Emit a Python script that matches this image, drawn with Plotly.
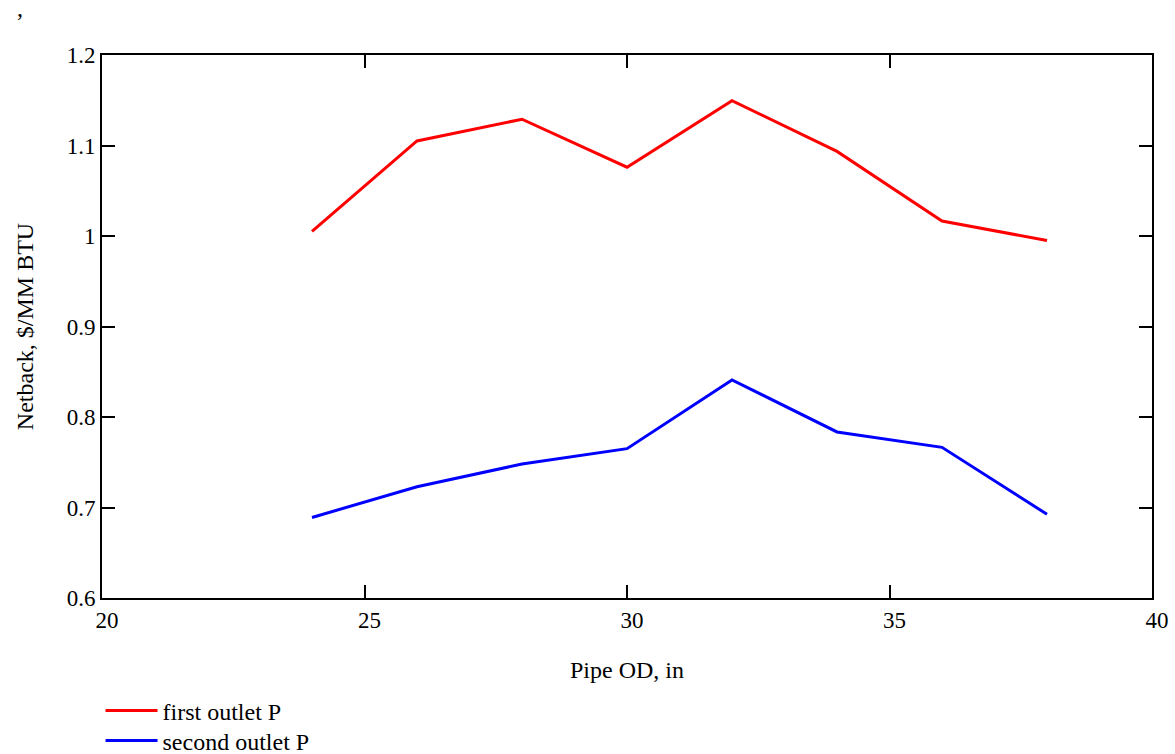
import plotly.graph_objects as go

pipe_od = [24, 26, 28, 30, 32, 34, 36, 38]
first_outlet = [1.005, 1.105, 1.129, 1.076, 1.1495, 1.0935, 1.0165, 0.995]
second_outlet = [0.689, 0.723, 0.748, 0.765, 0.841, 0.7835, 0.7665, 0.6925]

x_ticks = [20, 25, 30, 35, 40]
y_ticks = [0.6, 0.7, 0.8, 0.9, 1.0, 1.1, 1.2]
y_ticktext = ["0.6", "0.7", "0.8", "0.9", "1", "1.1", "1.2"]

font_family = "Liberation Serif, Times New Roman, serif"

fig = go.Figure()
fig.add_trace(go.Scatter(x=pipe_od, y=first_outlet, mode="lines", name="first outlet P",
                         line=dict(color="#ff0000", width=3), legend="legend"))
fig.add_trace(go.Scatter(x=pipe_od, y=second_outlet, mode="lines", name="second outlet P",
                         line=dict(color="#0000ff", width=3), legend="legend2"))

legend_common = dict(xref="paper", yref="container", x=-0.0014, xanchor="left",
                     yanchor="top", itemwidth=52, font=dict(size=24),
                     bgcolor="rgba(0,0,0,0)")

fig.update_layout(
    width=1175, height=754,
    margin=dict(l=101.5, r=23, t=55, b=156, autoexpand=False),
    paper_bgcolor="white", plot_bgcolor="white",
    font=dict(family=font_family, size=23, color="black"),
    showlegend=True,
    legend=dict(legend_common, y=0.0870),
    legend2=dict(legend_common, y=0.0472),
    title=dict(text=",", xref="container", yref="container", x=20 / 1175, y=1 - 8 / 754,
               xanchor="center", yanchor="middle", font=dict(size=24)),
)

fig.update_xaxes(range=[20, 40], tickvals=x_ticks, ticks="inside", ticklen=13,
                 tickwidth=2, tickcolor="black", showline=True, linecolor="black", linewidth=2,
                 mirror="ticks", showgrid=False, zeroline=False, ticklabelshift=5,
                 tickfont=dict(size=23),
                 title=dict(text="Pipe OD, in", standoff=30, font=dict(size=24)))
fig.update_yaxes(range=[0.6, 1.2], tickvals=y_ticks, ticktext=y_ticktext,
                 ticks="inside", ticklen=13, tickwidth=2, tickcolor="black",
                 showline=True, linecolor="black", linewidth=2, mirror="ticks",
                 showgrid=False, zeroline=False, tickfont=dict(size=23),
                 title=dict(text="Netback, $/MM BTU", standoff=26, font=dict(size=24)))

fig.write_html("out.html")
